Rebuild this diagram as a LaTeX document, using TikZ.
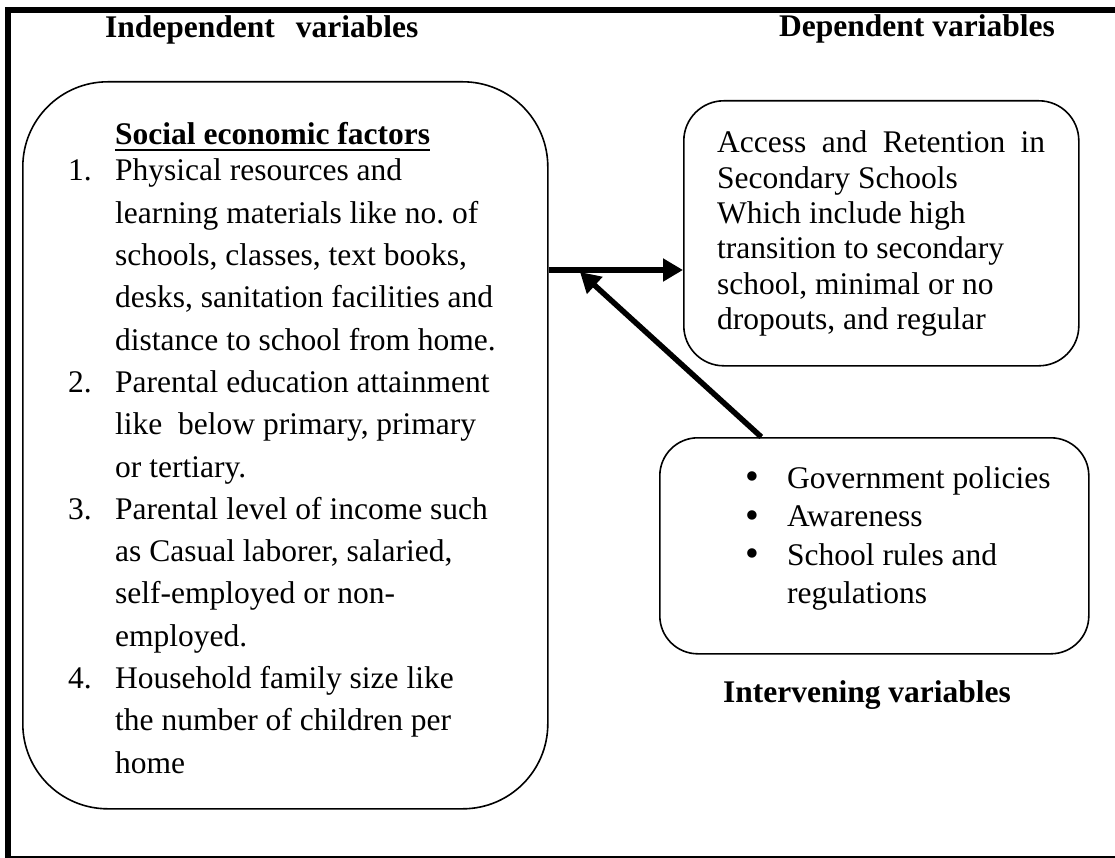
\documentclass[tikz,border=0pt]{standalone}
\usepackage{fontspec}
\setmainfont{Liberation Serif}
\usetikzlibrary{arrows.meta}
\frenchspacing
\newcommand{\dotmark}{\raisebox{-1.5pt}{\scalebox{1.25}{\textbullet}}}

\begin{document}
\begin{tikzpicture}[x=1pt,y=-1pt,font=\fontsize{31.5}{38}\selectfont,
  box/.style={draw,line width=1.6pt,inner sep=0pt,anchor=north west},
  fat/.style={line width=5.5pt,-{Triangle[length=20pt,width=22pt]}},
  lbl/.style={inner sep=0pt,anchor=base west}]
\useasboundingbox (0,0) rectangle (1115,858);
\draw[line width=5.5pt] (8,860) -- (8,10) -- (1120,10);
\draw[line width=1.5pt] (5,857) -- (1120,857);

\node[box,rounded corners=85pt,minimum width=525pt,minimum height=727pt] (ind) at (22,81) {};
\node[box,rounded corners=40pt,minimum width=395pt,minimum height=265pt] (dep) at (683,100) {};
\node[box,rounded corners=38pt,minimum width=429pt,minimum height=216pt] (inter) at (659,437) {};

\node[lbl] (indt) at (105,38) {\bfseries Independent\hspace*{21pt}variables};
\node[lbl,anchor=base east] (dept) at (1055,37) {\bfseries Dependent variables};
\node[lbl,anchor=base] (intt) at (867,702) {\bfseries Intervening variables};

\node[lbl] (sef) at (115,145) {\bfseries Social economic factors};
\draw[line width=2.5pt] ([yshift=-5pt]sef.base west) -- ([yshift=-5pt]sef.base east);

\node[lbl] (items) at (68,181) {\fontsize{31.5}{42.3}\selectfont
\begin{tabular}[t]{@{}l@{}l@{}}
\makebox[47pt][l]{1.} & Physical resources and\\
 & learning materials like no. of\\
 & schools, classes, text books,\\
 & desks, sanitation facilities and\\
 & distance to school from home.\\
\makebox[47pt][l]{2.} & Parental education attainment\\
 & like\ \ below primary, primary\\
 & or tertiary.\\
\makebox[47pt][l]{3.} & Parental level of income such\\
 & as Casual laborer, salaried,\\
 & self-employed or non-\\
 & employed.\\
\makebox[47pt][l]{4.} & Household family size like\\
 & the number of children per\\
 & home
\end{tabular}};

\node[lbl] (outcome) at (717,153) {\fontsize{31.5}{35.3}\selectfont
\begin{tabular}[t]{@{}l@{}}
\hbox to 328pt{Access\hfill and\hfill Retention\hfill in}\\
Secondary Schools\\
Which include high\\
transition to secondary\\
school, minimal or no\\
dropouts, and regular
\end{tabular}};

\node[lbl] (factors) at (745,488) {\fontsize{31.5}{38.5}\selectfont
\begin{tabular}[t]{@{}l@{}l@{}}
\makebox[42pt][l]{\dotmark} & Government policies\\
\makebox[42pt][l]{\dotmark} & Awareness\\
\makebox[42pt][l]{\dotmark} & School rules and\\
 & regulations
\end{tabular}};

\coordinate (join) at (580,270);
\draw[fat] (ind.east |- join) -- (dep.west |- join);
\draw[fat] ([xshift=-113pt]inter.north) -- ([yshift=-2pt]join);
\end{tikzpicture}
\end{document}
